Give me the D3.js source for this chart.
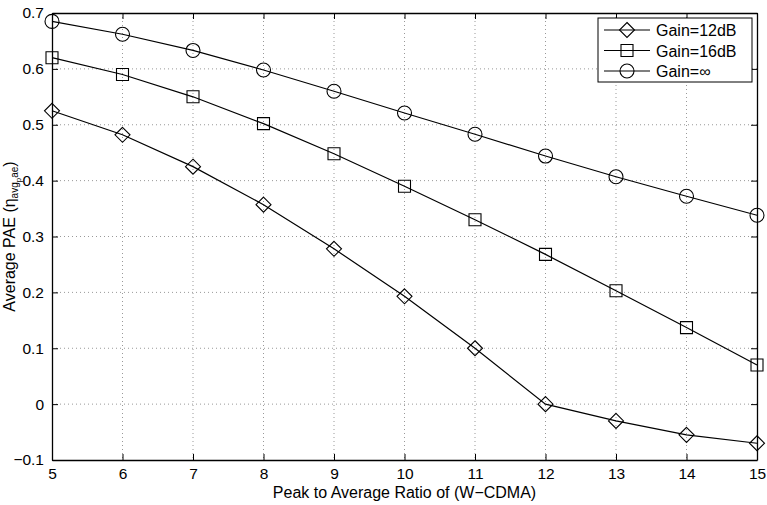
<!DOCTYPE html>
<html><head><meta charset="utf-8">
<script src="https://cdn.jsdelivr.net/npm/d3@7"></script>
<style>body{margin:0;background:#fff;} text{font-family:"Liberation Sans",Arial,sans-serif;}</style>
</head><body><svg id="c" width="767" height="505"></svg>
<script>
const xValues = [5,6,7,8,9,10,11,12,13,14,15];
const gain12 = [0.525,0.482,0.425,0.357,0.278,0.193,0.100,0.000,-0.030,-0.055,-0.070];
const gain16 = [0.620,0.590,0.550,0.502,0.448,0.390,0.330,0.268,0.203,0.137,0.070];
const gainInf = [0.685,0.662,0.633,0.598,0.560,0.521,0.483,0.444,0.407,0.372,0.338];
const xTicks = [5,6,7,8,9,10,11,12,13,14,15];
const yTicks = [-0.1,0,0.1,0.2,0.3,0.4,0.5,0.6,0.7];
const seriesNames = ["Gain=12dB","Gain=16dB","Gain=\u221E"];
const seriesMarkers = ["diamond","square","circle"];

const svg = d3.select("#c");
const L=52,R=757,T=13,B=460;
const FS = "15.5px";
const x = d3.scaleLinear().domain([5,15]).range([L,R]);
const y = d3.scaleLinear().domain([-0.1,0.7]).range([B,T]);

// grid
const g = svg.append("g");
g.selectAll(".gx").data(xTicks.slice(1,-1)).enter().append("line")
  .attr("x1",d=>x(d)).attr("x2",d=>x(d)).attr("y1",T).attr("y2",B)
  .attr("stroke","#999").attr("stroke-dasharray","1,3").attr("stroke-width",1);
g.selectAll(".gy").data(yTicks.slice(1,-1)).enter().append("line")
  .attr("y1",d=>y(d)).attr("y2",d=>y(d)).attr("x1",L).attr("x2",R)
  .attr("stroke","#999").attr("stroke-dasharray","1,3").attr("stroke-width",1);

// axes
const fmt = d => d===0 ? "0" : (d<0 ? "\u2212"+Math.abs(d) : String(d));
const xb = svg.append("g").attr("transform",`translate(0,${B})`)
  .call(d3.axisBottom(x).tickValues(xTicks).tickSizeInner(-6).tickSizeOuter(0).tickPadding(8).tickFormat(d=>d));
const xt = svg.append("g").attr("transform",`translate(0,${T})`)
  .call(d3.axisTop(x).tickValues(xTicks).tickSizeInner(-6).tickSizeOuter(0).tickFormat(""));
const yl = svg.append("g").attr("transform",`translate(${L},0)`)
  .call(d3.axisLeft(y).tickValues(yTicks).tickSizeInner(-6).tickSizeOuter(0).tickPadding(8).tickFormat(fmt));
const yr = svg.append("g").attr("transform",`translate(${R},0)`)
  .call(d3.axisRight(y).tickValues(yTicks).tickSizeInner(-6).tickSizeOuter(0).tickFormat(""));
[xb,xt,yl,yr].forEach(a=>{
  a.selectAll("path").attr("stroke","#000").attr("stroke-width",1.3);
  a.selectAll("line").attr("stroke","#000").attr("stroke-width",1);
  a.selectAll("text").attr("fill","#000").style("font-size",FS).style("font-family","'Liberation Sans',Arial,sans-serif");
});

// series
const sym = {
  diamond: (s)=>`M0,${-s}L${s},0L0,${s}L${-s},0Z`,
  square: (s)=>`M${-s},${-s}H${s}V${s}H${-s}Z`,
  circle: (s)=>`M${s},0A${s},${s} 0 1,1 ${-s},0A${s},${s} 0 1,1 ${s},0Z`
};
const sizes = {diamond:7.5, square:6, circle:7};
const allSeries = [gain12,gain16,gainInf];
const line = d3.line().x((d,i)=>x(xValues[i])).y(d=>y(d));
allSeries.forEach((vals,si)=>{
  svg.append("path").attr("d",line(vals)).attr("fill","none").attr("stroke","#000").attr("stroke-width",1.2);
  svg.selectAll(null).data(vals).enter().append("path")
    .attr("transform",(d,i)=>`translate(${x(xValues[i])},${y(d)})`)
    .attr("d",sym[seriesMarkers[si]](sizes[seriesMarkers[si]]))
    .attr("fill","none").attr("stroke","#000").attr("stroke-width",1.1);
});

// legend
const lg = svg.append("g");
const lx=598, ly=18, lw=154, lh=64;
lg.append("rect").attr("x",lx).attr("y",ly).attr("width",lw).attr("height",lh).attr("fill","#fff").attr("stroke","#000").attr("stroke-width",1);
seriesNames.forEach((n,i)=>{
  const cy = ly+12+i*20.5;
  lg.append("line").attr("x1",lx+6).attr("x2",lx+52).attr("y1",cy).attr("y2",cy).attr("stroke","#000").attr("stroke-width",1.2);
  lg.append("path").attr("transform",`translate(${lx+29},${cy})`).attr("d",sym[seriesMarkers[i]](sizes[seriesMarkers[i]]))
    .attr("fill","none").attr("stroke","#000").attr("stroke-width",1.1);
  lg.append("text").attr("x",lx+58).attr("y",cy+6).text(n).style("font-size","16px");
});

// axis titles
svg.append("text").attr("x",(L+R)/2).attr("y",498).attr("text-anchor","middle").style("font-size","16px").text("Peak to Average Ratio of (W\u2212CDMA)");
const yt = svg.append("text").attr("transform",`translate(15,${(T+B)/2}) rotate(-90)`).attr("text-anchor","middle").style("font-size","16px");
yt.append("tspan").text("Average PAE (\u03B7");
yt.append("tspan").attr("dy",3).style("font-size","10px").text("avg");
yt.append("tspan").attr("dy",2.5).style("font-size","8px").text("p");
yt.append("tspan").attr("dy",-2.5).style("font-size","10px").text("ae");
yt.append("tspan").attr("dy",-3).text(")");
</script></body></html>
